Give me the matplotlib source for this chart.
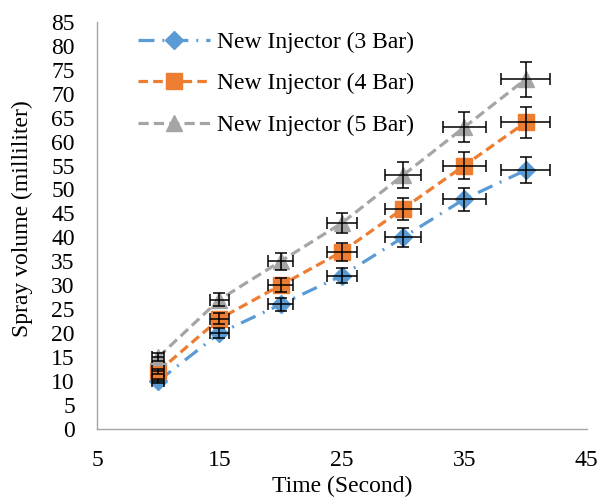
import matplotlib.pyplot as plt
import matplotlib

matplotlib.rcParams['font.family'] = ['Liberation Serif', 'DejaVu Serif']

# data
time_s = [10, 15, 20, 25, 30, 35, 40]
bar3 = [10, 20, 26, 32, 40, 48, 54]
bar4 = [12, 23, 30, 37, 46, 55, 64]
bar5 = [15, 27, 35, 43, 53, 63, 73]
x_err = [0.5, 0.75, 1.0, 1.25, 1.5, 1.75, 2.0]
err3 = [0.5, 1.0, 1.3, 1.6, 2.0, 2.4, 2.7]
err4 = [0.6, 1.15, 1.5, 1.85, 2.3, 2.75, 3.2]
err5 = [0.75, 1.35, 1.75, 2.15, 2.65, 3.15, 3.65]

labels = ['New Injector (3 Bar)', 'New Injector (4 Bar)', 'New Injector (5 Bar)']
colors = ['#5B9BD5', '#ED7D31', '#A5A5A5']
markers = ['D', 's', '^']
msizes = [9, 11, 11]
dashes = [(5, 2.5, 0.6, 2.5), (3, 1.6), (3.2, 1.6)]

fig = plt.figure(figsize=(6.03, 4.97), dpi=100)
ax = fig.add_axes([0.161, 0.137, 0.812, 0.819])

series = [bar3, bar4, bar5]
errs = [err3, err4, err5]
for ys, ye, lab, c, m, ms, d in zip(series, errs, labels, colors, markers, msizes, dashes):
    line, = ax.plot(time_s, ys, color=c, lw=2.3, marker=m, markersize=ms,
                    markeredgecolor=c, label=lab, zorder=3)
    line.set_dashes(d)
    ax.errorbar(time_s, ys, xerr=x_err, yerr=ye, fmt='none', ecolor='black',
                elinewidth=1.1, capsize=4, capthick=1.1, zorder=4)

ax.set_xlim(5, 45)
ax.set_ylim(0, 85)
ax.set_xticks(range(5, 46, 10))
ax.set_yticks(range(0, 86, 5))
ax.tick_params(length=0, labelsize=17)
ax.tick_params(axis='y', pad=16)
ax.tick_params(axis='x', pad=15)

for s in ['top', 'right']:
    ax.spines[s].set_visible(False)
for s in ['left', 'bottom']:
    ax.spines[s].set_color('#A6A6A6')
    ax.spines[s].set_linewidth(1)

ax.set_xlabel('Time (Second)', fontsize=17, labelpad=4)
ax.set_ylabel('Spray volume (milliliter)', fontsize=17)
ax.yaxis.set_label_coords(-0.131, 0.516)

ax.legend(loc='upper left', bbox_to_anchor=(0.064, 1.0), borderaxespad=0,
          frameon=False, fontsize=17, handlelength=3.05, labelspacing=0.85,
          handletextpad=0.3)

fig.savefig('out.png', dpi=100)
